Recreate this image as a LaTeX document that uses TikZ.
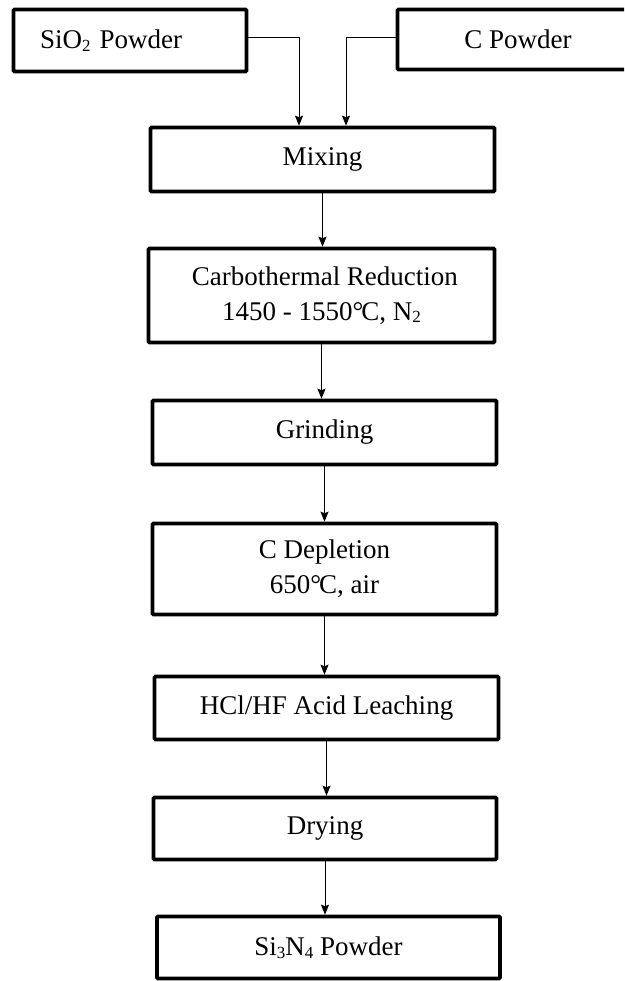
\documentclass[tikz,border=0pt]{standalone}
\usepackage{fontspec}
\setmainfont{Liberation Serif}
\usetikzlibrary{arrows.meta}
\tikzstyle{process}=[draw,line width=3.6pt,rounded corners=1pt,align=center,inner sep=0pt,font=\fontsize{27}{35}\selectfont]
\tikzstyle{feed}=[process,align=left]
\tikzstyle{link}=[draw,line width=1pt,-{Stealth[length=10pt,width=8pt,inset=1.5pt]}]
\newcommand{\degc}{°\kern-0.08em C}
\newcommand{\chemsub}[1]{\raisebox{-0.1em}{\fontsize{17}{17}\selectfont #1}}

\begin{document}
\begin{tikzpicture}[x=1pt,y=-1pt]
  \useasboundingbox (0,0) rectangle (624,981);
  \clip (0,0) rectangle (624,981);
  % raw materials
  \node[feed,minimum height=62pt,text width=180pt,inner xsep=26.5pt] (sio2) at (130,40.5) {SiO\chemsub{2} Powder};
  \node[process,minimum width=241pt,minimum height=60pt] (cpow) at (518,39.5) {C Powder};
  % process chain
  \node[process,minimum width=344pt,minimum height=64pt] (mix)   at (322.5,159.5) {Mixing};
  \node[process,minimum width=346pt,minimum height=94pt] (carbo) at (321.5,295.5) {\ Carbothermal Reduction\\1450 - 1550\degc, N\chemsub{2}};
  \node[process,minimum width=344pt,minimum height=64pt] (grind) at (324.5,432.5) {Grinding};
  \node[process,minimum width=344pt,minimum height=91pt] (cdep)  at (324.5,569)   {C Depletion\\650\degc, air};
  \node[process,minimum width=344pt,minimum height=63pt] (hcl)   at (326.5,708)   {HCl/HF Acid Leaching};
  \node[process,minimum width=343pt,minimum height=62pt] (dry)   at (325,828.5)   {Drying};
  \node[process,minimum width=343pt,minimum height=62pt] (si3n4) at (328.5,947.5) {Si\chemsub{3}N\chemsub{4} Powder};

  \draw[link] ([yshift=2.5pt]sio2.east) -| ([xshift=-23.5pt]mix.north);
  \draw[link] ([yshift=1.5pt]cpow.west) -| ([xshift=23.5pt]mix.north);
  \foreach \a/\b in {mix/carbo,carbo/grind,grind/cdep,cdep/hcl,hcl/dry,dry/si3n4}
    \draw[link] (\a.south) -- (\a.south |- \b.north);
\end{tikzpicture}
\end{document}
